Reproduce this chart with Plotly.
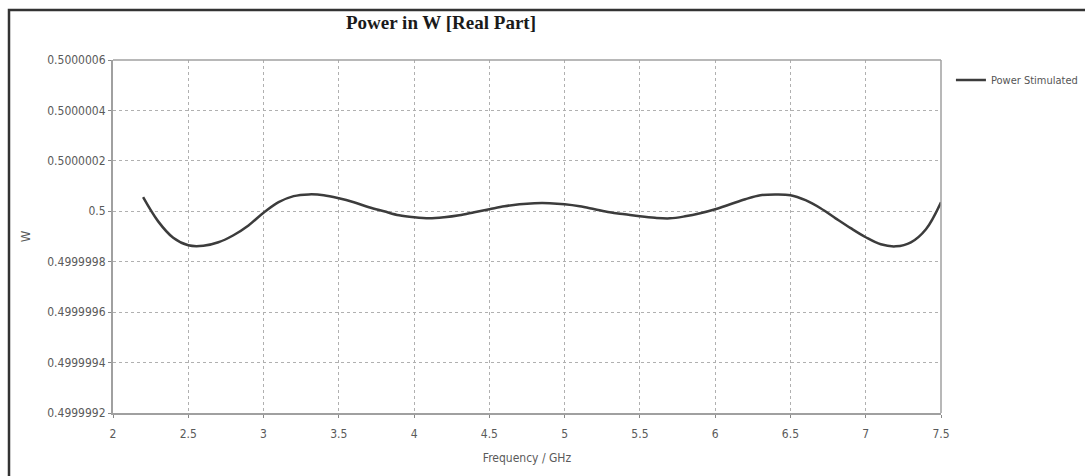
import plotly.graph_objects as go

freq_ghz = [2.2, 2.3, 2.4, 2.5, 2.6, 2.7, 2.8, 2.9, 3.0, 3.1, 3.2, 3.3, 3.4, 3.5,
            3.6, 3.7, 3.8, 3.9, 4.0, 4.1, 4.2, 4.3, 4.4, 4.5, 4.6, 4.7, 4.8, 4.9,
            5.0, 5.1, 5.2, 5.3, 5.4, 5.5, 5.6, 5.7, 5.8, 5.9, 6.0, 6.1, 6.2, 6.3,
            6.4, 6.5, 6.6, 6.7, 6.8, 6.9, 7.0, 7.1, 7.2, 7.3, 7.4, 7.5]
# offsets from 0.5 W, in units of 1e-7 W
offset_e7 = [0.56, -0.40, -1.05, -1.35, -1.37, -1.23, -0.95, -0.56, -0.06, 0.36,
             0.60, 0.67, 0.64, 0.52, 0.36, 0.16, 0.00, -0.16, -0.24, -0.28,
             -0.24, -0.16, -0.04, 0.08, 0.20, 0.28, 0.32, 0.32, 0.28, 0.20,
             0.08, -0.04, -0.12, -0.20, -0.26, -0.28, -0.20, -0.08, 0.08, 0.28,
             0.48, 0.64, 0.67, 0.64, 0.44, 0.12, -0.28, -0.67, -1.03, -1.31,
             -1.39, -1.23, -0.71, 0.36]
power_w = [0.5 + o * 1e-7 for o in offset_e7]

y_tickvals = [0.4999992, 0.4999994, 0.4999996, 0.4999998, 0.5, 0.5000002, 0.5000004, 0.5000006]
y_ticktext = ["0.4999992", "0.4999994", "0.4999996", "0.4999998", "0.5", "0.5000002", "0.5000004", "0.5000006"]
x_tickvals = [2, 2.5, 3, 3.5, 4, 4.5, 5, 5.5, 6, 6.5, 7, 7.5]
x_ticktext = ["2", "2.5", "3", "3.5", "4", "4.5", "5", "5.5", "6", "6.5", "7", "7.5"]

cond = "DejaVu Sans Condensed, DejaVu Sans"
tick_font = dict(family=cond, size=12, color="#5a5a5a")

fig = go.Figure()
fig.add_trace(go.Scatter(
    x=freq_ghz, y=power_w, mode="lines", name="Power Stimulated",
    line=dict(color="#3c3c3c", width=2.5, shape="spline", smoothing=1.0),
))

fig.update_layout(
    width=1085, height=476,
    margin=dict(l=113, r=144, t=60, b=63, autoexpand=False),
    paper_bgcolor="white", plot_bgcolor="white",
    title=dict(text="<b>Power in W [Real Part]</b>", x=441 / 1085, xref="container", xanchor="center",
               y=1 - 22 / 476, yref="container", yanchor="middle",
               font=dict(family="Liberation Serif, Times New Roman", size=19, color="#1a1a1a")),
    showlegend=True,
    legend=dict(x=1.012, y=(413 - 80) / 353, xanchor="left", yanchor="middle",
                font=dict(family=cond, size=11, color="#555555"),
                bgcolor="rgba(0,0,0,0)", itemwidth=30),
    xaxis=dict(range=[2, 7.5], tickvals=x_tickvals, ticktext=x_ticktext,
               showgrid=True, gridcolor="#b0b0b0", griddash="dot", gridwidth=1,
               showline=True, linecolor="#a0a0a0", linewidth=2, mirror=False,
               ticks="outside", ticklen=3, tickcolor="#888888", tickfont=tick_font,
               ticklabelstandoff=6,
               zeroline=False,
               title=dict(text="Frequency / GHz", font=dict(family=cond, size=12, color="#5a5a5a"),
                          standoff=13)),
    yaxis=dict(range=[0.4999992, 0.5000006], tickvals=y_tickvals, ticktext=y_ticktext,
               showgrid=True, gridcolor="#b0b0b0", griddash="dot", gridwidth=1,
               showline=True, linecolor="#a0a0a0", linewidth=2, mirror=False,
               ticks="outside", ticklen=3, tickcolor="#888888", tickfont=tick_font,
               zeroline=False,
               title=dict(text="W", font=dict(family=cond, size=13, color="#5a5a5a"),
                          standoff=14)),
    shapes=[
        dict(type="line", xref="paper", yref="paper", x0=0, x1=1, y0=1, y1=1,
             line=dict(color="#a0a0a0", width=1.5)),
        dict(type="line", xref="paper", yref="paper", x0=1, x1=1, y0=0, y1=1,
             line=dict(color="#a0a0a0", width=1.5)),
        dict(type="rect", xref="paper", yref="paper",
             x0=(9 - 113) / 828, x1=(1095 - 113) / 828,
             y0=(413 - 490) / 353, y1=(413 - 10) / 353,
             line=dict(color="#333333", width=2.5), fillcolor="rgba(0,0,0,0)"),
    ],
)

fig.write_html("out.html")
